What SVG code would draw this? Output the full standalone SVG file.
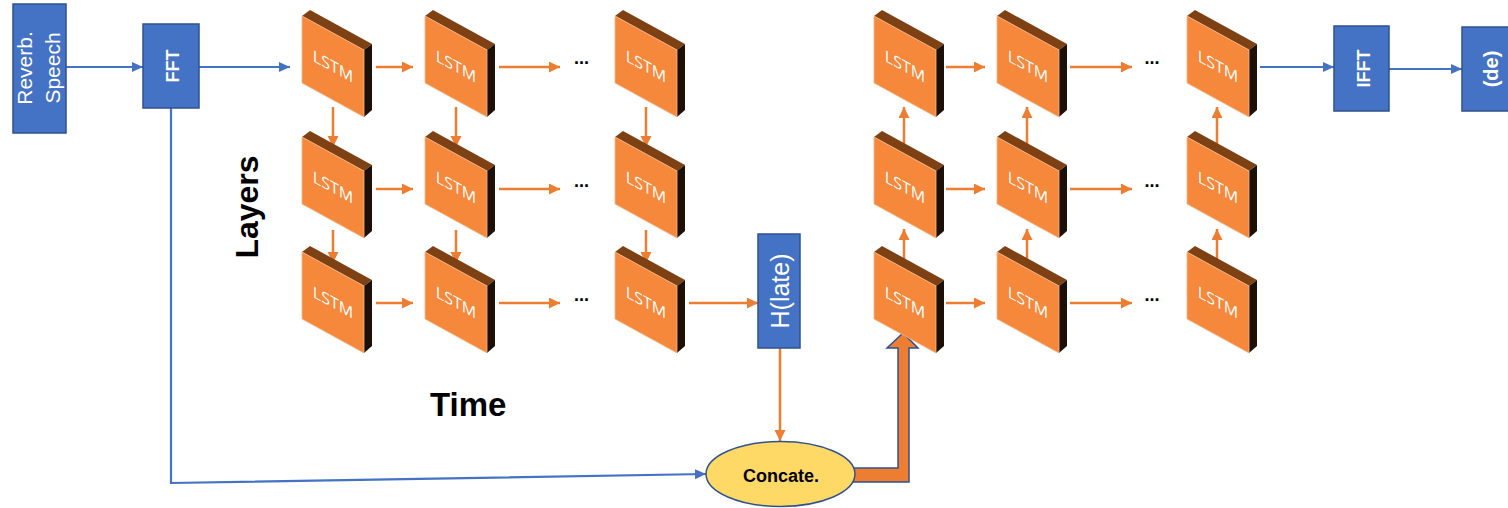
<svg xmlns="http://www.w3.org/2000/svg" xmlns:xlink="http://www.w3.org/1999/xlink" width="1508" height="508" viewBox="0 0 1508 508">
<style>
.box{fill:#4472C4;stroke:#2F528F;stroke-width:1.5}
.wt{fill:#fff;font-family:"Liberation Sans",Arial,sans-serif}
.lbl{fill:#000;font-family:"Liberation Sans",Arial,sans-serif;font-weight:bold}
.oa{stroke:#ED7D31;stroke-width:2.5;fill:none;marker-end:url(#ah-o)}
.ba{stroke:#4472C4;stroke-width:2.2;fill:none;marker-end:url(#ah-b)}
.dots{fill:#000;font-family:"Liberation Sans",Arial,sans-serif;font-weight:bold;font-size:18px;text-anchor:middle}
.front{fill:#F5883B;stroke:#F8B98A;stroke-width:0.8}
.top{fill:#7E4113}
.side{fill:#1C1008}
.lt{fill:#fff;font-family:"Open Sans","Noto Sans",sans-serif;font-size:16px;text-anchor:middle}
</style>
<defs>
<marker id="ah-o" markerUnits="userSpaceOnUse" markerWidth="12" markerHeight="12" refX="11" refY="5.5" orient="auto"><path d="M0,0 L11,5.5 L0,11 z" fill="#ED7D31"/></marker>
<marker id="ah-b" markerUnits="userSpaceOnUse" markerWidth="12" markerHeight="12" refX="11" refY="5" orient="auto"><path d="M0,0 L11,5 L0,10 z" fill="#4472C4"/></marker>
<g id="lstm">
<polygon class="top" points="0,0 8,-6 70,28 62,34"/>
<polygon class="side" points="62,34 70,28 70,94 62,101"/>
<polygon class="front" points="0,0 62,34 62,101 0,67"/>
<text class="lt" transform="skewY(28.74)" x="31" y="39">LSTM</text>
</g>
</defs>

<g id="connectors">
<line class="ba" x1="66" y1="67" x2="143" y2="67"/>
<line class="ba" x1="199" y1="67" x2="290" y2="67"/>
<path class="ba" d="M171,108 L171,483 L706,474"/>
<line class="ba" x1="1260" y1="67" x2="1334" y2="67"/>
<line class="ba" x1="1389" y1="69" x2="1462" y2="69"/>
<line class="oa" x1="376" y1="67" x2="413" y2="67"/>
<line class="oa" x1="499" y1="67" x2="560" y2="67"/>
<line class="oa" x1="376" y1="189" x2="413" y2="189"/>
<line class="oa" x1="499" y1="189" x2="560" y2="189"/>
<line class="oa" x1="376" y1="303" x2="413" y2="303"/>
<line class="oa" x1="499" y1="303" x2="560" y2="303"/>
<line class="oa" x1="689" y1="303" x2="758" y2="303"/>
<line class="oa" x1="333" y1="107" x2="333" y2="147"/>
<line class="oa" x1="333" y1="230" x2="333" y2="263"/>
<line class="oa" x1="456" y1="107" x2="456" y2="147"/>
<line class="oa" x1="456" y1="230" x2="456" y2="263"/>
<line class="oa" x1="646" y1="107" x2="646" y2="147"/>
<line class="oa" x1="646" y1="230" x2="646" y2="263"/>
<line class="oa" x1="946" y1="67" x2="985" y2="67"/>
<line class="oa" x1="1070" y1="67" x2="1132" y2="67"/>
<line class="oa" x1="946" y1="189" x2="985" y2="189"/>
<line class="oa" x1="1070" y1="189" x2="1132" y2="189"/>
<line class="oa" x1="946" y1="303" x2="985" y2="303"/>
<line class="oa" x1="1070" y1="303" x2="1132" y2="303"/>
<line class="oa" x1="904" y1="147" x2="904" y2="107"/>
<line class="oa" x1="904" y1="262" x2="904" y2="229"/>
<line class="oa" x1="1027" y1="147" x2="1027" y2="107"/>
<line class="oa" x1="1027" y1="262" x2="1027" y2="229"/>
<line class="oa" x1="1217" y1="147" x2="1217" y2="107"/>
<line class="oa" x1="1217" y1="262" x2="1217" y2="229"/>
<line class="oa" x1="780" y1="348" x2="780" y2="441"/>
<path d="M845,468 L898,468 L898,348 L887,348 L903,333 L918,348 L909,348 L909,482 L845,482 Z" fill="#ED7D31" stroke="#2F528F" stroke-width="1.5" stroke-linejoin="miter"/>
</g>

<g id="reverb">
<rect class="box" x="13" y="4" width="53" height="129"/>
<text class="wt" font-size="21" text-anchor="middle" transform="translate(0,68) rotate(-90)" y="32">Reverb.</text>
<text class="wt" font-size="21" text-anchor="middle" transform="translate(0,68) rotate(-90)" y="60">Speech</text>
</g>
<g id="fft">
<rect class="box" x="143" y="24" width="56" height="84"/>
<text class="wt" font-size="18" font-weight="bold" text-anchor="middle" transform="translate(178.5,66) rotate(-90)">FFT</text>
</g>
<g id="ifft">
<rect class="box" x="1334" y="26" width="55" height="85"/>
<text class="wt" font-size="18" font-weight="bold" text-anchor="middle" transform="translate(1370,68.5) rotate(-90)">IFFT</text>
</g>
<g id="de">
<rect class="box" x="1462" y="27" width="60" height="84"/>
<text class="wt" font-size="20" font-weight="bold" text-anchor="middle" transform="translate(1498,69) rotate(-90)">(de)</text>
</g>
<g id="hlate">
<rect class="box" x="758" y="234" width="42" height="114"/>
<text class="wt" font-size="25" text-anchor="middle" transform="translate(789,291) rotate(-90)">H(late)</text>
</g>
<g id="concat">
<ellipse cx="780.5" cy="474" rx="74.5" ry="32.5" fill="#FFD966" stroke="#2F528F" stroke-width="1.5"/>
<text class="lbl" font-size="18" x="781" y="482" text-anchor="middle">Concate.</text>
</g>

<g id="enc-l1-t1"><use xlink:href="#lstm" x="302" y="16"/></g>
<g id="enc-l1-t2"><use xlink:href="#lstm" x="425" y="16"/></g>
<g id="enc-l1-tn"><use xlink:href="#lstm" x="615" y="16"/></g>
<g id="enc-l2-t1"><use xlink:href="#lstm" x="302" y="137"/></g>
<g id="enc-l2-t2"><use xlink:href="#lstm" x="425" y="137"/></g>
<g id="enc-l2-tn"><use xlink:href="#lstm" x="615" y="137"/></g>
<g id="enc-l3-t1"><use xlink:href="#lstm" x="302" y="252"/></g>
<g id="enc-l3-t2"><use xlink:href="#lstm" x="425" y="252"/></g>
<g id="enc-l3-tn"><use xlink:href="#lstm" x="615" y="252"/></g>
<g id="dec-l1-t1"><use xlink:href="#lstm" x="874" y="16"/></g>
<g id="dec-l1-t2"><use xlink:href="#lstm" x="997" y="16"/></g>
<g id="dec-l1-tn"><use xlink:href="#lstm" x="1187" y="16"/></g>
<g id="dec-l2-t1"><use xlink:href="#lstm" x="874" y="137"/></g>
<g id="dec-l2-t2"><use xlink:href="#lstm" x="997" y="137"/></g>
<g id="dec-l2-tn"><use xlink:href="#lstm" x="1187" y="137"/></g>
<g id="dec-l3-t1"><use xlink:href="#lstm" x="874" y="252"/></g>
<g id="dec-l3-t2"><use xlink:href="#lstm" x="997" y="252"/></g>
<g id="dec-l3-tn"><use xlink:href="#lstm" x="1187" y="252"/></g>

<g id="ellipses">
<text class="dots" x="581.5" y="64">...</text>
<text class="dots" x="581.5" y="187">...</text>
<text class="dots" x="581.5" y="301">...</text>
<text class="dots" x="1152" y="64">...</text>
<text class="dots" x="1152" y="187">...</text>
<text class="dots" x="1152" y="301">...</text>
</g>

<g id="labels">
<text class="lbl" font-size="32" text-anchor="middle" transform="translate(258,207) rotate(-90)">Layers</text>
<text class="lbl" font-size="33" x="430" y="416">Time</text>
</g>
</svg>
